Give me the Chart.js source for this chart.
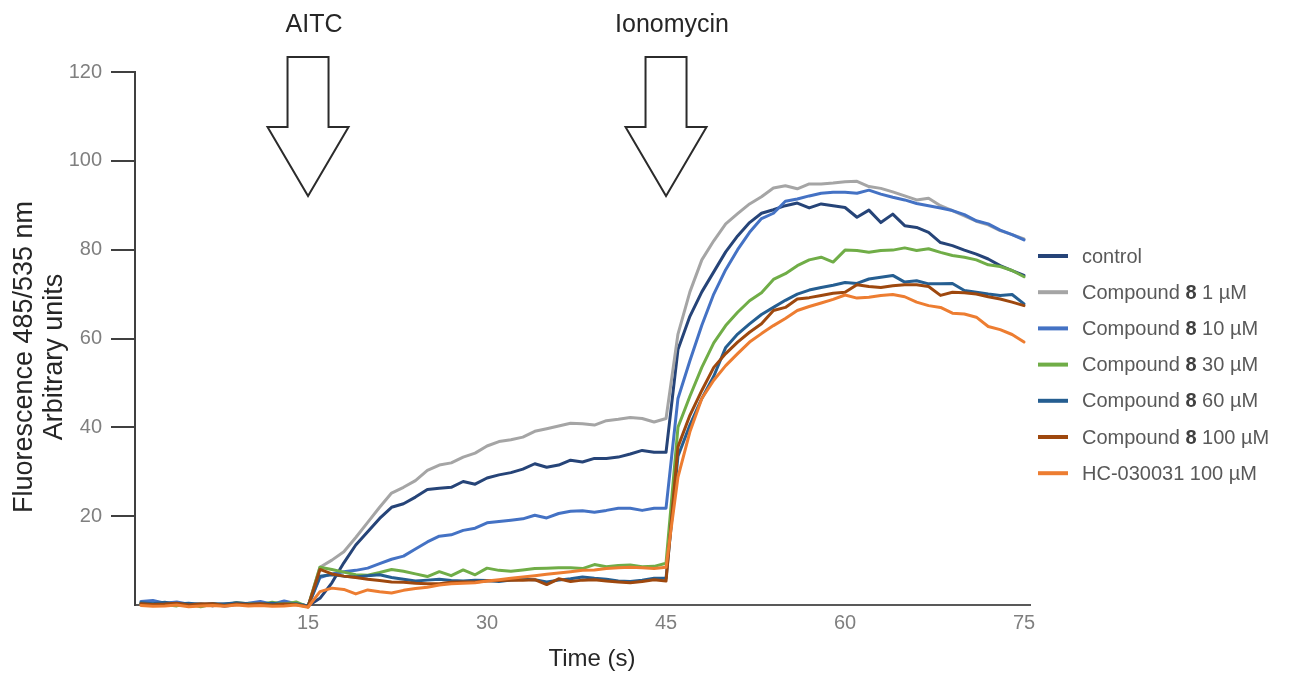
<!DOCTYPE html>
<html>
<head>
<meta charset="utf-8">
<script src="https://cdn.jsdelivr.net/npm/chart.js@4/dist/chart.umd.min.js"></script>
<style>
  html, body { margin: 0; padding: 0; background: #ffffff; }
  canvas { display: block; }
</style>
</head>
<body>
<canvas id="trace" width="1291" height="675"></canvas>
<script>
// Time points (s), one reading per second
const timeSeconds = [
  1, 2, 3, 4, 5, 6, 7, 8, 9, 10, 11, 12, 13, 14, 15,
  16, 17, 18, 19, 20, 21, 22, 23, 24, 25, 26, 27, 28, 29, 30,
  31, 32, 33, 34, 35, 36, 37, 38, 39, 40, 41, 42, 43, 44, 45,
  46, 47, 48, 49, 50, 51, 52, 53, 54, 55, 56, 57, 58, 59, 60,
  61, 62, 63, 64, 65, 66, 67, 68, 69, 70, 71, 72, 73, 74, 75
];

// Fluorescence 485/535 nm (arbitrary units) for each condition
const controlValues = [
  0.3, 0.5, 0.2, 0.4, 0.1, 0.3, -0.2, 0.2, 0.4, 0.1, 0.3, 0.2, 0.4, 0.3, -0.2,
  1.5, 5, 9.5, 13.5, 16.5, 19.5, 22, 22.8, 24.3, 26, 26.3, 26.5, 27.8, 27.2, 28.6,
  29.3, 29.8, 30.6, 31.8, 31, 31.5, 32.6, 32.2, 33, 33, 33.3, 34, 34.8, 34.4, 34.4,
  57.5, 65, 70.5, 75, 79.5, 83.1, 86.1, 88.2, 89, 89.9, 90.5, 89.4, 90.3, 89.9, 89.5,
  87.3, 88.9, 86.1, 88, 85.4, 85, 83.9, 81.6, 80.9, 79.9, 79, 77.9, 76.4, 75.3, 74.2
];
const cmpd8_1uM = [
  0.2, 0.4, 0.3, 0.1, 0.3, 0.2, 0.1, 0.3, 0.2, 0.4, 0.1, 0.2, 0.3, 0.1, -0.3,
  8.5, 10.1, 12, 15.2, 18.6, 22, 25.2, 26.5, 28, 30.3, 31.5, 32, 33.3, 34.2, 35.8,
  36.8, 37.2, 37.8, 39.1, 39.7, 40.3, 40.9, 40.8, 40.5, 41.5, 41.8, 42.2, 42, 41.2, 42,
  61, 70.5, 77.7, 82, 85.8, 88.1, 90.3, 91.9, 93.9, 94.4, 93.7, 94.8, 94.8, 95, 95.3,
  95.4, 94.2, 93.8, 93, 92.1, 91.2, 91.6, 89.9, 88.8, 87.6, 86.4, 85.6, 84.3, 83.4, 82.4
];
const cmpd8_10uM = [
  0.8, 1, 0.4, 0.7, 0.2, -0.1, 0.3, -0.3, 0.1, 0.4, 0.8, 0.2, 0.9, 0.3, -0.3,
  6.2, 7, 7.5, 7.8, 8.3, 9.3, 10.3, 11, 12.6, 14.2, 15.5, 15.8, 16.8, 17.3, 18.5,
  18.8, 19.1, 19.4, 20.2, 19.6, 20.6, 21.1, 21.2, 20.9, 21.3, 21.8, 21.8, 21.3, 21.8, 21.8,
  46.5, 55, 63, 70, 75.5, 80, 83.9, 87, 88.2, 90.9, 91.4, 92.1, 92.7, 92.9, 92.9,
  92.7, 93.4, 92.5, 91.8, 91.2, 90.4, 89.9, 89.4, 88.8, 87.9, 86.5, 85.8, 84.4, 83.4, 82.2
];
const cmpd8_30uM = [
  0.4, 0.2, 0.1, -0.2, 0.3, -0.4, 0.2, 0, 0.5, 0.3, 0.1, 0.6, 0.2, 0.7, -0.4,
  8.5, 8, 7.4, 6.8, 6.7, 7.3, 8, 7.6, 7, 6.4, 7.5, 6.6, 7.9, 6.8, 8.3,
  7.8, 7.6, 7.9, 8.2, 8.3, 8.4, 8.4, 8.2, 9.1, 8.6, 8.9, 9, 8.6, 8.7, 9.4,
  40, 47, 53.5, 59, 62.9, 65.9, 68.5, 70.3, 73.3, 74.6, 76.4, 77.7, 78.3, 77.2, 79.9,
  79.8, 79.4, 79.8, 79.9, 80.4, 79.8, 80.2, 79.4, 78.7, 78.3, 77.7, 76.6, 76.2, 75.3, 73.9
];
const cmpd8_60uM = [
  0.5, 0.3, 0.6, 0.2, 0.4, 0.1, 0.3, 0.2, 0.5, 0.3, 0.2, 0.4, 0.1, 0.3, -0.2,
  6.5, 6.8, 6.5, 6.3, 6.6, 6.8, 6.2, 5.8, 5.4, 5.6, 5.8, 5.5, 5.4, 5.6, 5.5,
  5.3, 5.6, 5.8, 5.7, 5.2, 5.6, 5.9, 6.3, 6, 5.8, 5.4, 5.3, 5.6, 6, 6,
  33.5, 40.5, 46.5, 51.5, 58, 61, 63.3, 65.4, 67, 68.6, 70, 70.9, 71.5, 72, 72.6,
  72.4, 73.4, 73.8, 74.2, 72.7, 73, 72.3, 72.3, 72.4, 70.8, 70.4, 70, 69.7, 69.9, 67.8
];
const cmpd8_100uM = [
  0.3, 0.1, 0.2, 0.4, 0, 0.2, 0.3, -0.1, 0.2, 0.1, 0.3, 0, 0.2, 0.1, -0.4,
  8, 7, 6.5, 6.2, 5.8, 5.5, 5.2, 5.1, 4.9, 4.8, 4.8, 5.1, 5.2, 5.2, 5.4,
  5.5, 5.6, 5.6, 5.7, 4.6, 5.9, 5.3, 5.6, 5.7, 5.4, 5.2, 5, 5.3, 5.7, 5.4,
  35.6, 42.7, 48.3, 53.5, 56.6, 59.2, 61.4, 63.3, 66.3, 67, 68.9, 69.2, 69.7, 70.2, 70.4,
  72.1, 71.7, 71.5, 71.9, 72.1, 72.1, 71.7, 69.7, 70.4, 70.3, 70, 69.4, 68.9, 68.2, 67.4
];
const hc030031_100uM = [
  -0.1, -0.3, -0.2, 0, -0.4, -0.2, -0.1, -0.3, 0, -0.2, -0.1, -0.3, -0.2, 0, -0.5,
  3, 3.8, 3.5, 2.5, 3.4, 3, 2.7, 3.3, 3.7, 4, 4.5, 4.8, 4.9, 5, 5.4,
  5.7, 6, 6.3, 6.6, 6.9, 7.2, 7.5, 7.8, 7.9, 8.2, 8.4, 8.5, 8.4, 8.2, 8.5,
  28.8, 39, 46.5, 50.6, 53.9, 56.6, 59.2, 61.1, 62.9, 64.5, 66.3, 67.2, 68, 68.8, 69.8,
  69.1, 69.3, 69.7, 69.9, 69.4, 68.2, 67.4, 67, 65.7, 65.5, 64.8, 62.7, 62, 60.9, 59.2
];

const seriesNames = [
  'control',
  'Compound 8 1 µM',
  'Compound 8 10 µM',
  'Compound 8 30 µM',
  'Compound 8 60 µM',
  'Compound 8 100 µM',
  'HC-030031 100 µM'
];
const seriesValues = [controlValues, cmpd8_1uM, cmpd8_10uM, cmpd8_30uM, cmpd8_60uM, cmpd8_100uM, hc030031_100uM];
const seriesColors = ['#264478', '#a5a5a5', '#4472c4', '#70ad47', '#255e91', '#9e480e', '#ed7d31'];

// Axis ticks
const xTickValues = [15, 30, 45, 60, 75];
const yTickValues = [20, 40, 60, 80, 100, 120];

// Additions marked above the traces
const stimulusTimes = [15, 45];
const stimulusNames = ['AITC', 'Ionomycin'];

const yTitleLines = ['Fluorescence 485/535 nm', 'Arbitrary units'];
const xTitle = 'Time (s)';

// Plot frame (pixels)
const W = 1291, H = 675;
const plotLeft = 135, plotRight = 1030, plotTop = 72, plotBottom = 605;

const SANS = '"Liberation Sans", Arial, sans-serif';

const decorations = {
  id: 'decorations',
  afterDraw(chart) {
    const ctx = chart.ctx;
    const xs = chart.scales.x;

    // Down arrows with their labels
    ctx.save();
    stimulusTimes.forEach((t, i) => {
      const cx = xs.getPixelForValue(t);
      const shaftHalf = 20.5, headHalf = 40.5;
      const top = 57, neck = 127, tip = 196;
      ctx.beginPath();
      ctx.moveTo(cx - shaftHalf, top);
      ctx.lineTo(cx + shaftHalf, top);
      ctx.lineTo(cx + shaftHalf, neck);
      ctx.lineTo(cx + headHalf, neck);
      ctx.lineTo(cx, tip);
      ctx.lineTo(cx - headHalf, neck);
      ctx.lineTo(cx - shaftHalf, neck);
      ctx.closePath();
      ctx.fillStyle = '#ffffff';
      ctx.fill();
      ctx.lineWidth = 2;
      ctx.lineJoin = 'miter';
      ctx.strokeStyle = '#2b2b2b';
      ctx.stroke();

      ctx.fillStyle = '#262626';
      ctx.font = '25px ' + SANS;
      ctx.textAlign = 'center';
      ctx.textBaseline = 'alphabetic';
      ctx.fillText(stimulusNames[i], cx + 6, 32);
    });
    ctx.restore();

    // Axis titles
    ctx.save();
    ctx.fillStyle = '#262626';
    ctx.font = '24px ' + SANS;
    ctx.textAlign = 'center';
    ctx.textBaseline = 'alphabetic';
    ctx.fillText(xTitle, 592, 666);

    ctx.font = '27px ' + SANS;
    ctx.translate(31.5, 357);
    ctx.rotate(-Math.PI / 2);
    ctx.fillText(yTitleLines[0], 0, 0);
    ctx.fillText(yTitleLines[1], 0, 30);
    ctx.restore();

    // Legend on the right
    ctx.save();
    const rowTop = 256, rowStep = 36.2;
    seriesNames.forEach((name, i) => {
      const y = rowTop + i * rowStep;
      ctx.beginPath();
      ctx.moveTo(1038, y);
      ctx.lineTo(1068, y);
      ctx.lineWidth = 4;
      ctx.strokeStyle = seriesColors[i];
      ctx.stroke();

      ctx.textBaseline = 'middle';
      ctx.textAlign = 'left';
      let x = 1082;
      const parts = name.startsWith('Compound 8')
        ? [['Compound ', false], ['8', true], [name.slice('Compound 8'.length), false]]
        : [[name, false]];
      parts.forEach(([txt, bold]) => {
        ctx.font = (bold ? 'bold ' : '') + '20px ' + SANS;
        ctx.fillStyle = bold ? '#404040' : '#595959';
        ctx.fillText(txt, x, y + 1);
        x += ctx.measureText(txt).width;
      });
    });
    ctx.restore();
  }
};

new Chart(document.getElementById('trace'), {
  type: 'line',
  data: {
    datasets: seriesValues.map((vals, i) => ({
      label: seriesNames[i],
      data: timeSeconds.map((t, k) => ({ x: t, y: vals[k] })),
      borderColor: seriesColors[i],
      backgroundColor: seriesColors[i],
      borderWidth: 3,
      pointRadius: 0,
      tension: 0,
      borderJoinStyle: 'round',
      borderCapStyle: 'round',
      clip: 6,
      order: seriesValues.length - 1 - i
    }))
  },
  options: {
    responsive: false,
    animation: false,
    devicePixelRatio: 1,
    layout: { padding: { left: 0, top: plotTop, right: W - plotRight, bottom: 0 } },
    plugins: {
      legend: { display: false },
      tooltip: { enabled: false },
      title: { display: false }
    },
    scales: {
      x: {
        type: 'linear',
        min: 0.5,
        max: 75.5,
        afterBuildTicks: axis => { axis.ticks = xTickValues.map(v => ({ value: v })); },
        afterFit: axis => { axis.height = H - plotBottom; },
        grid: { display: true, drawOnChartArea: false, drawTicks: false, color: 'rgba(0,0,0,0)' },
        border: { display: true, color: '#595959', width: 2 },
        ticks: {
          color: '#7f7f7f',
          font: { family: SANS, size: 20 },
          padding: 6,
          maxRotation: 0,
          autoSkip: false
        }
      },
      y: {
        type: 'linear',
        min: 0,
        max: 120,
        afterBuildTicks: axis => { axis.ticks = yTickValues.map(v => ({ value: v })); },
        afterFit: axis => { axis.width = plotLeft; },
        grid: { display: true, drawOnChartArea: false, drawTicks: true, tickLength: 24, color: '#404040', lineWidth: 2 },
        border: { display: true, color: '#404040', width: 2 },
        ticks: {
          color: '#7f7f7f',
          font: { family: SANS, size: 20 },
          padding: 9
        }
      }
    }
  },
  plugins: [decorations]
});
</script>
</body>
</html>
